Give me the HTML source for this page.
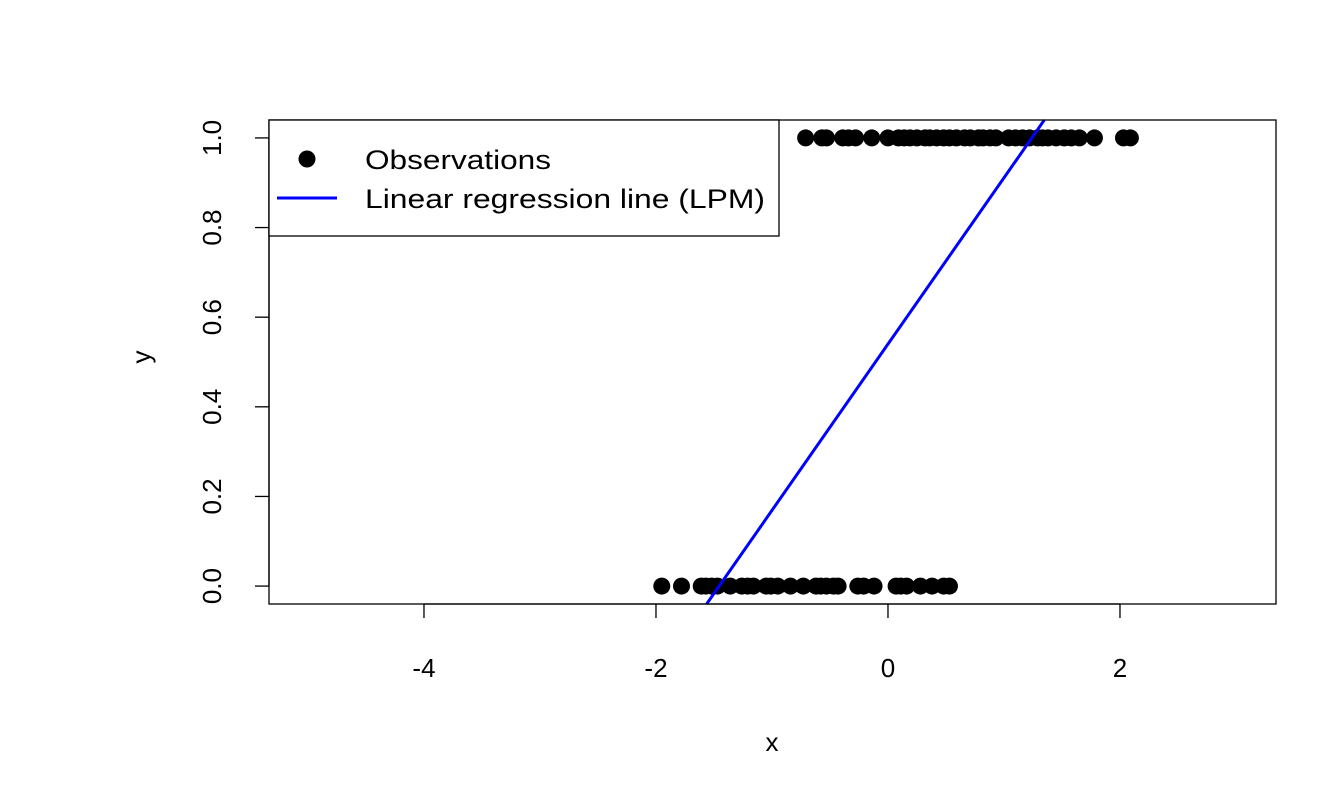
<!DOCTYPE html>
<html><head><meta charset="utf-8"><style>
body{margin:0;background:#fff}
svg{display:block;font-family:"Liberation Sans",Arial,sans-serif}
</style></head><body>
<svg id="chart" width="1344" height="806" viewBox="0 0 1344 806" xmlns="http://www.w3.org/2000/svg">
<rect width="1344" height="806" fill="#fff"/>
<g id="axes"></g>
<g id="points"></g>
<g id="fit"></g>
<rect x="269" y="120" width="1007" height="484" fill="none" stroke="#000" stroke-width="1.3"/>
<text x="772" y="751" font-size="26" text-anchor="middle">x</text>
<text transform="translate(150,357) rotate(-90)" font-size="26" text-anchor="middle">y</text>
<g>
<rect x="269" y="120" width="510" height="116" fill="#fff" stroke="#000" stroke-width="1.3"/>
<circle cx="307" cy="159" r="8.5" fill="#000"/>
<text x="365" y="169" font-size="27" textLength="186" lengthAdjust="spacingAndGlyphs">Observations</text>
<line x1="277" y1="198" x2="337" y2="198" stroke="#0000ff" stroke-width="3"/>
<text x="365" y="208" font-size="27" textLength="400" lengthAdjust="spacingAndGlyphs">Linear regression line (LPM)</text>
</g>
</svg>
<script>
const xZero = [-1.95,-1.78,-1.61,-1.57,-1.52,-1.47,-1.36,-1.26,-1.21,-1.16,-1.05,-1.01,-0.95,-0.84,-0.73,-0.62,-0.58,-0.53,-0.47,-0.43,-0.26,-0.21,-0.12,0.07,0.11,0.16,0.28,0.38,0.48,0.53];
const xOne = [-0.71,-0.57,-0.53,-0.39,-0.34,-0.28,-0.14,0,0.09,0.14,0.19,0.25,0.32,0.36,0.42,0.48,0.53,0.59,0.66,0.71,0.78,0.82,0.88,0.93,1.04,1.10,1.16,1.22,1.29,1.33,1.38,1.45,1.52,1.58,1.65,1.78,2.03,2.09];
const fitIntercept = 0.54;
const fitSlope = 0.371;
const xTicks = [-4,-2,0,2];
const yTicks = [0,0.2,0.4,0.6,0.8,1.0];
const xMin=-5.336, xMax=3.345, yMin=-0.04, yMax=1.04;
const L=269,R=1276,T=120,B=604;
const sx=v=>L+(v-xMin)/(xMax-xMin)*(R-L);
const sy=v=>B-(v-yMin)/(yMax-yMin)*(B-T);
const NS="http://www.w3.org/2000/svg";
function mk(tag,attrs,parent){const e=document.createElementNS(NS,tag);for(const k in attrs)e.setAttribute(k,attrs[k]);parent.appendChild(e);return e;}
const ax=document.getElementById('axes');
let e=mk('line',{x1:sx(-4),x2:sx(2),y1:B,y2:B,stroke:'#000','stroke-width':1.3},ax);


xTicks.forEach(t=>{
 let l=mk('line',{x1:sx(t),x2:sx(t),y1:B,y2:B+14,stroke:'#000','stroke-width':1.3},ax);
 
 
 let tx=mk('text',{x:sx(t),y:677,'font-size':26,'text-anchor':'middle'},ax);tx.textContent=String(t);
 
 
});
e=mk('line',{x1:L,x2:L,y1:sy(0),y2:sy(1),stroke:'#000','stroke-width':1.3},ax);


yTicks.forEach(t=>{
 let l=mk('line',{x1:L-14,x2:L,y1:sy(t),y2:sy(t),stroke:'#000','stroke-width':1.3},ax);
 
 
 let tx=mk('text',{transform:`translate(221,${sy(t)}) rotate(-90)`,'font-size':26,'text-anchor':'middle'},ax);tx.textContent=t.toFixed(1);
 
 
});
const pg=document.getElementById('points');
xZero.forEach(v=>{let c=mk('circle',{cx:sx(v),cy:sy(0),r:8.5,fill:'#000'},pg);
 
 });
xOne.forEach(v=>{let c=mk('circle',{cx:sx(v),cy:sy(1),r:8.5,fill:'#000'},pg);
 
 });
const x1=(yMin-fitIntercept)/fitSlope, x2=(yMax-fitIntercept)/fitSlope;
let fl=mk('line',{x1:sx(x1),y1:sy(yMin),x2:sx(x2),y2:sy(yMax),stroke:'#0000ff','stroke-width':3},document.getElementById('fit'));


</script>
</body></html>
